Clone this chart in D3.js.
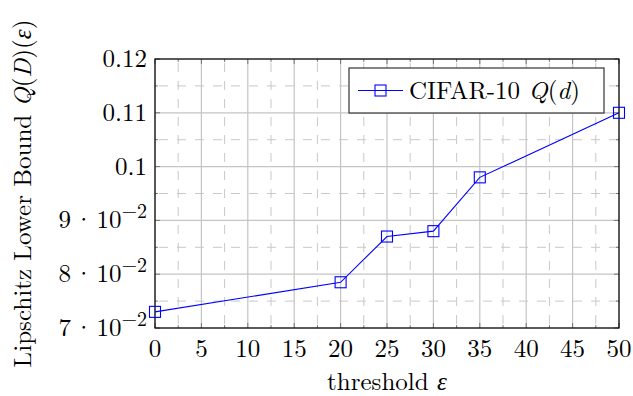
<!DOCTYPE html>
<html>
<head>
<meta charset="utf-8">
<script src="https://cdn.jsdelivr.net/npm/d3@7"></script>
<style>
  body { margin: 0; background: #fff; }
  text { font-family: "Latin Modern Roman", "Liberation Serif", "DejaVu Serif", serif; fill: #000; }
</style>
</head>
<body>
<div id="chart"></div>
<script>
// data
var thresholds = [0, 20, 25, 30, 35, 50];
var bounds = [0.073, 0.0785, 0.087, 0.088, 0.098, 0.11];
var xTicks = [0, 5, 10, 15, 20, 25, 30, 35, 40, 45, 50];
var yTicks = [0.07, 0.08, 0.09, 0.10, 0.11, 0.12];
var yTickLabels = [["7", "−2"], ["8", "−2"], ["9", "−2"], ["0.1"], ["0.11"], ["0.12"]];
var seriesName = "CIFAR-10 ";

var width = 633, height = 396;
var margin = {left: 155, right: 14, top: 59, bottom: 68};
var fs = 25;

var svg = d3.select('#chart').append('svg')
    .attr('width', width)
    .attr('height', height);

var x = d3.scaleLinear().domain([0, 50]).range([margin.left, width - margin.right]);
var y = d3.scaleLinear().domain([0.07, 0.12]).range([height - margin.bottom, margin.top]);

var x0 = x.range()[0], x1 = x.range()[1];
var y0 = y.range()[0], y1 = y.range()[1];

// minor grid (dashed)
var xMinor = d3.range(2.5, 50, 5);
var yMinor = d3.range(0.075, 0.12, 0.01);
var grid = svg.append('g');
grid.selectAll('.xm').data(xMinor).enter().append('line')
    .attr('x1', d => x(d)).attr('x2', d => x(d))
    .attr('y1', y0).attr('y2', y1)
    .attr('stroke', '#c8c8c8').attr('stroke-width', 1)
    .attr('stroke-dasharray', '9,9').attr('stroke-dashoffset', -4);
grid.selectAll('.ym').data(yMinor).enter().append('line')
    .attr('y1', d => y(d)).attr('y2', d => y(d))
    .attr('x1', x0).attr('x2', x1)
    .attr('stroke', '#c8c8c8').attr('stroke-width', 1)
    .attr('stroke-dasharray', '9,9').attr('stroke-dashoffset', -4);

// major grid (solid)
grid.selectAll('.xg').data(xTicks).enter().append('line')
    .attr('x1', d => x(d)).attr('x2', d => x(d))
    .attr('y1', y0).attr('y2', y1)
    .attr('stroke', '#c4c4c4').attr('stroke-width', 1.2);
grid.selectAll('.yg').data(yTicks).enter().append('line')
    .attr('y1', d => y(d)).attr('y2', d => y(d))
    .attr('x1', x0).attr('x2', x1)
    .attr('stroke', '#c4c4c4').attr('stroke-width', 1.2);

// inner ticks on all sides
var ticks = svg.append('g').attr('stroke', '#777').attr('stroke-width', 1);
xTicks.concat(xMinor).forEach(function(d) {
    var len = xTicks.indexOf(d) >= 0 ? 5 : 3;
    ticks.append('line').attr('x1', x(d)).attr('x2', x(d)).attr('y1', y0).attr('y2', y0 - len);
    ticks.append('line').attr('x1', x(d)).attr('x2', x(d)).attr('y1', y1).attr('y2', y1 + len);
});
yTicks.concat(yMinor).forEach(function(d) {
    var len = yTicks.indexOf(d) >= 0 ? 5 : 3;
    ticks.append('line').attr('y1', y(d)).attr('y2', y(d)).attr('x1', x0).attr('x2', x0 + len);
    ticks.append('line').attr('y1', y(d)).attr('y2', y(d)).attr('x1', x1).attr('x2', x1 - len);
});

// frame
svg.append('rect')
    .attr('x', x0).attr('y', y1)
    .attr('width', x1 - x0).attr('height', y0 - y1)
    .attr('fill', 'none').attr('stroke', '#000').attr('stroke-width', 1.2);

// x tick labels
svg.append('g').selectAll('text').data(xTicks).enter().append('text')
    .attr('x', d => x(d)).attr('y', y0 + 29)
    .attr('text-anchor', 'middle')
    .attr('font-size', fs)
    .text(d => d);

// y tick labels
var yl = svg.append('g').selectAll('text').data(yTicks).enter().append('text')
    .attr('x', x0 - 8).attr('y', d => y(d) + 8)
    .attr('text-anchor', 'end')
    .attr('font-size', fs);
yl.each(function(d, i) {
    var t = d3.select(this), lab = yTickLabels[i];
    if (lab.length === 1) {
        t.text(lab[0]);
    } else {
        t.append('tspan').text(lab[0]);
        t.append('tspan').attr('dx', 3).text('·');
        t.append('tspan').attr('dx', 3).text('10');
        t.append('tspan').attr('font-size', 20).attr('dy', -10).text(lab[1]);
    }
});

// line + markers
var line = d3.line().x((d, i) => x(thresholds[i])).y(d => y(d));
svg.append('path').datum(bounds)
    .attr('d', line)
    .attr('fill', 'none').attr('stroke', '#0000ff').attr('stroke-width', 1.1);
svg.append('g').selectAll('rect').data(bounds).enter().append('rect')
    .attr('x', (d, i) => x(thresholds[i]) - 5.5)
    .attr('y', d => y(d) - 5.5)
    .attr('width', 11).attr('height', 11)
    .attr('fill', 'none').attr('stroke', '#0000ff').attr('stroke-width', 1.1);

// legend
var lg = svg.append('g').attr('transform', 'translate(349,68)');
lg.append('rect').attr('width', 255).attr('height', 45)
    .attr('fill', '#fff').attr('stroke', '#333').attr('stroke-width', 1.2);
lg.append('line').attr('x1', 9).attr('x2', 54).attr('y1', 22.5).attr('y2', 22.5)
    .attr('stroke', '#0000ff').attr('stroke-width', 1.1);
lg.append('rect').attr('x', 26).attr('y', 17).attr('width', 11).attr('height', 11)
    .attr('fill', 'none').attr('stroke', '#0000ff').attr('stroke-width', 1.1);
var lt = lg.append('text').attr('x', 60).attr('y', 31).attr('font-size', fs);
lt.append('tspan').text(seriesName);
lt.append('tspan').attr('font-style', 'italic').text('Q');
lt.append('tspan').text('(');
lt.append('tspan').attr('font-style', 'italic').text('d');
lt.append('tspan').text(')');

// axis labels
var xt = svg.append('text')
    .attr('x', (x0 + x1) / 2).attr('y', 390)
    .attr('text-anchor', 'middle').attr('font-size', fs);
xt.append('tspan').text('threshold ');
xt.append('tspan').attr('font-style', 'italic').text('ε');

var ytl = svg.append('text')
    .attr('transform', 'translate(31,' + ((y0 + y1) / 2) + ') rotate(-90)')
    .attr('text-anchor', 'middle').attr('font-size', fs);
ytl.append('tspan').text('Lipschitz Lower Bound ');
ytl.append('tspan').attr('font-style', 'italic').text('Q');
ytl.append('tspan').text('(');
ytl.append('tspan').attr('font-style', 'italic').text('D');
ytl.append('tspan').text(')(');
ytl.append('tspan').attr('font-style', 'italic').text('ε');
ytl.append('tspan').text(')');
</script>
</body>
</html>
